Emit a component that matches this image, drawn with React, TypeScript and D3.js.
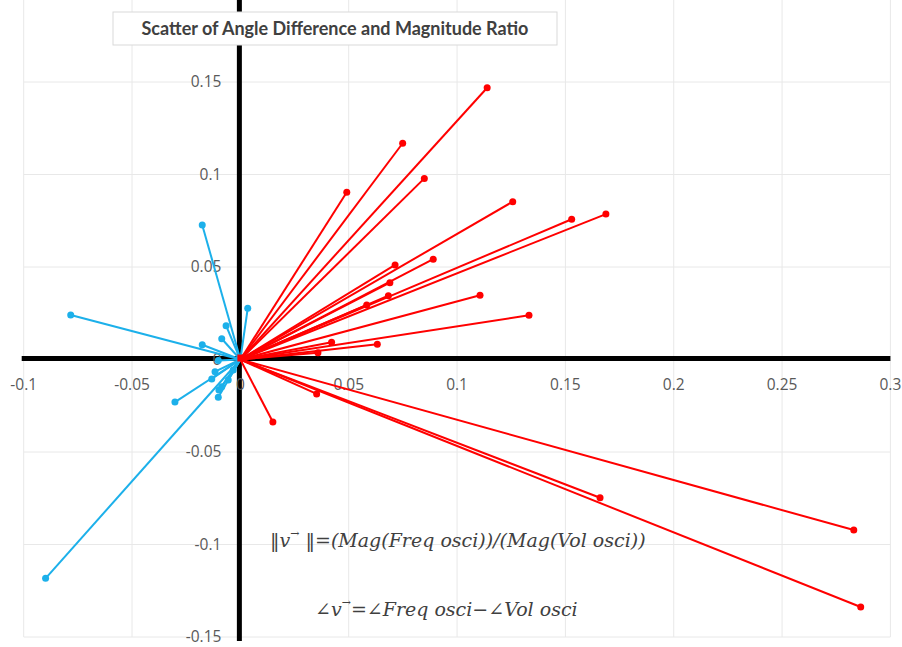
import React, { useEffect, useRef } from "react";
import * as d3 from "d3";

// red series: end points of vectors (angle diff, magnitude ratio)
const redX = [0.1139, 0.0749, 0.0849, 0.0491, 0.1257, 0.1529, 0.1687, 0.0714, 0.089, 0.069, 0.0683,
  0.0583, 0.1106, 0.1332, 0.0632, 0.0421, 0.0358, 0.0352, 0.015, 0.166, 0.2831, 0.2863];
const redY = [0.1469, 0.1169, 0.0979, 0.0904, 0.0853, 0.0758, 0.0786, 0.0511, 0.0542, 0.0415, 0.0345,
  0.0295, 0.0347, 0.0239, 0.0082, 0.0093, 0.0037, -0.0186, -0.0338, -0.0747, -0.0922, -0.1338];

// blue series
const blueX = [-0.0783, -0.0899, -0.0302, 0.0034, -0.0066, -0.0086, -0.0176, -0.0176, -0.0102, -0.0102,
  -0.0099, -0.0132, -0.0086, -0.0056, -0.0117, -0.0033];
const blueY = [0.0241, -0.1183, -0.023, 0.0277, 0.0183, 0.0112, 0.008, 0.0727, -0.0006, -0.0204,
  -0.0165, -0.0105, -0.0147, -0.0111, -0.0066, -0.0057];

const xTicks = [-0.1, -0.05, 0, 0.05, 0.1, 0.15, 0.2, 0.25, 0.3];
const xTickLabels = ["-0.1", "-0.05", "0", "0.05", "0.1", "0.15", "0.2", "0.25", "0.3"];
const yTicks = [-0.15, -0.1, -0.05, 0, 0.05, 0.1, 0.15];
const yTickLabels = ["-0.15", "-0.1", "-0.05", "0", "0.05", "0.1", "0.15"];

const title = "Scatter of Angle Difference and Magnitude Ratio";

function App() {
  const ref = useRef<SVGSVGElement>(null);

  useEffect(() => {
    const svg = d3.select(ref.current);
    svg.selectAll("*").remove();

    const width = 902, height = 647;

    // scales
    const x = d3.scaleLinear().domain([-0.1, 0.3]).range([23.7, 890.4]);
    const y = d3.scaleLinear().domain([-0.15, 0.15]).range([637, 82]);

    svg.append("rect").attr("width", width).attr("height", height).attr("fill", "#fff");

    // gridlines
    svg.append("g")
      .selectAll("line")
      .data(xTicks)
      .enter()
      .append("line")
      .attr("x1", d => x(d)).attr("x2", d => x(d))
      .attr("y1", 0).attr("y2", y(-0.15))
      .attr("stroke", "#e8e8e8").attr("stroke-width", 1);

    svg.append("g")
      .selectAll("line")
      .data(yTicks)
      .enter()
      .append("line")
      .attr("x1", x(-0.1)).attr("x2", x(0.3))
      .attr("y1", d => y(d)).attr("y2", d => y(d))
      .attr("stroke", "#e8e8e8").attr("stroke-width", 1);

    // axis lines
    svg.append("line")
      .attr("x1", x(-0.1) - 2).attr("x2", x(0.3))
      .attr("y1", y(0) - 1).attr("y2", y(0) - 1)
      .attr("stroke", "#000").attr("stroke-width", 5);
    svg.append("line")
      .attr("x1", x(0) - 1).attr("x2", x(0) - 1)
      .attr("y1", 0).attr("y2", y(-0.15) + 4)
      .attr("stroke", "#000").attr("stroke-width", 5);

    // tick labels
    svg.append("g")
      .selectAll("text")
      .data(xTicks)
      .enter()
      .append("text")
      .attr("x", d => x(d))
      .attr("y", y(0) + 30)
      .attr("text-anchor", "middle")
      .style("font-family", "'Open Sans', sans-serif")
      .style("font-size", "15.5px")
      .attr("fill", "#595959")
      .text((d, i) => xTickLabels[i]);

    svg.append("g")
      .selectAll("text")
      .data(yTicks)
      .enter()
      .append("text")
      .attr("x", x(0) - 19)
      .attr("y", d => y(d) + 5)
      .attr("text-anchor", "end")
      .style("font-family", "'Open Sans', sans-serif")
      .style("font-size", "15.5px")
      .attr("fill", "#595959")
      .text((d, i) => yTickLabels[i]);

    // vectors from origin
    const drawSeries = (xs: number[], ys: number[], color: string) => {
      const g = svg.append("g");
      g.selectAll("line")
        .data(xs)
        .enter()
        .append("line")
        .attr("x1", x(0)).attr("y1", y(0))
        .attr("x2", d => x(d))
        .attr("y2", (d, i) => y(ys[i]))
        .attr("stroke", color)
        .attr("stroke-width", 2);
      g.selectAll("circle")
        .data(xs)
        .enter()
        .append("circle")
        .attr("cx", d => x(d))
        .attr("cy", (d, i) => y(ys[i]))
        .attr("r", 3.5)
        .attr("fill", color);
      g.append("rect")
        .attr("x", x(0) - 3).attr("y", y(0) - 5)
        .attr("width", 8).attr("height", 7)
        .attr("fill", color);
    };
    drawSeries(blueX, blueY, "#1cb0ea");
    drawSeries(redX, redY, "#ff0000");

    // title box
    svg.append("rect")
      .attr("x", 113).attr("y", 12)
      .attr("width", 444).attr("height", 33)
      .attr("fill", "#fff")
      .attr("stroke", "#d9d9d9");
    svg.append("text")
      .attr("x", 335).attr("y", 35)
      .attr("text-anchor", "middle")
      .style("font-family", "Lato, sans-serif")
      .style("font-weight", "bold")
      .style("font-size", "18px")
      .attr("fill", "#404040")
      .text(title);

    // formula annotations
    const f1 = svg.append("text")
      .attr("x", 270).attr("y", 547)
      .style("font-family", "'DejaVu Serif', serif")
      .style("font-style", "italic")
      .style("font-size", "19px")
      .attr("fill", "#404040");
    f1.append("tspan").text("\u2016v");
    f1.append("tspan").attr("dy", -10).style("font-size", "11px").text("\u2192");
    f1.append("tspan").attr("dy", 10).text(" \u2016=(Mag(Freq osci))/(Mag(Vol osci))");

    const f2 = svg.append("text")
      .attr("x", 315).attr("y", 616)
      .style("font-family", "'DejaVu Serif', serif")
      .style("font-style", "italic")
      .style("font-size", "19px")
      .attr("fill", "#404040");
    f2.append("tspan").text("\u2220v");
    f2.append("tspan").attr("dy", -10).style("font-size", "11px").text("\u2192");
    f2.append("tspan").attr("dy", 10).text("=\u2220Freq osci\u2212\u2220Vol osci");
  }, []);

  return (
    <svg ref={ref} width={902} height={647}
      style={{ position: "absolute", left: 0, top: 0, display: "block" }} />
  );
}

export default App;
